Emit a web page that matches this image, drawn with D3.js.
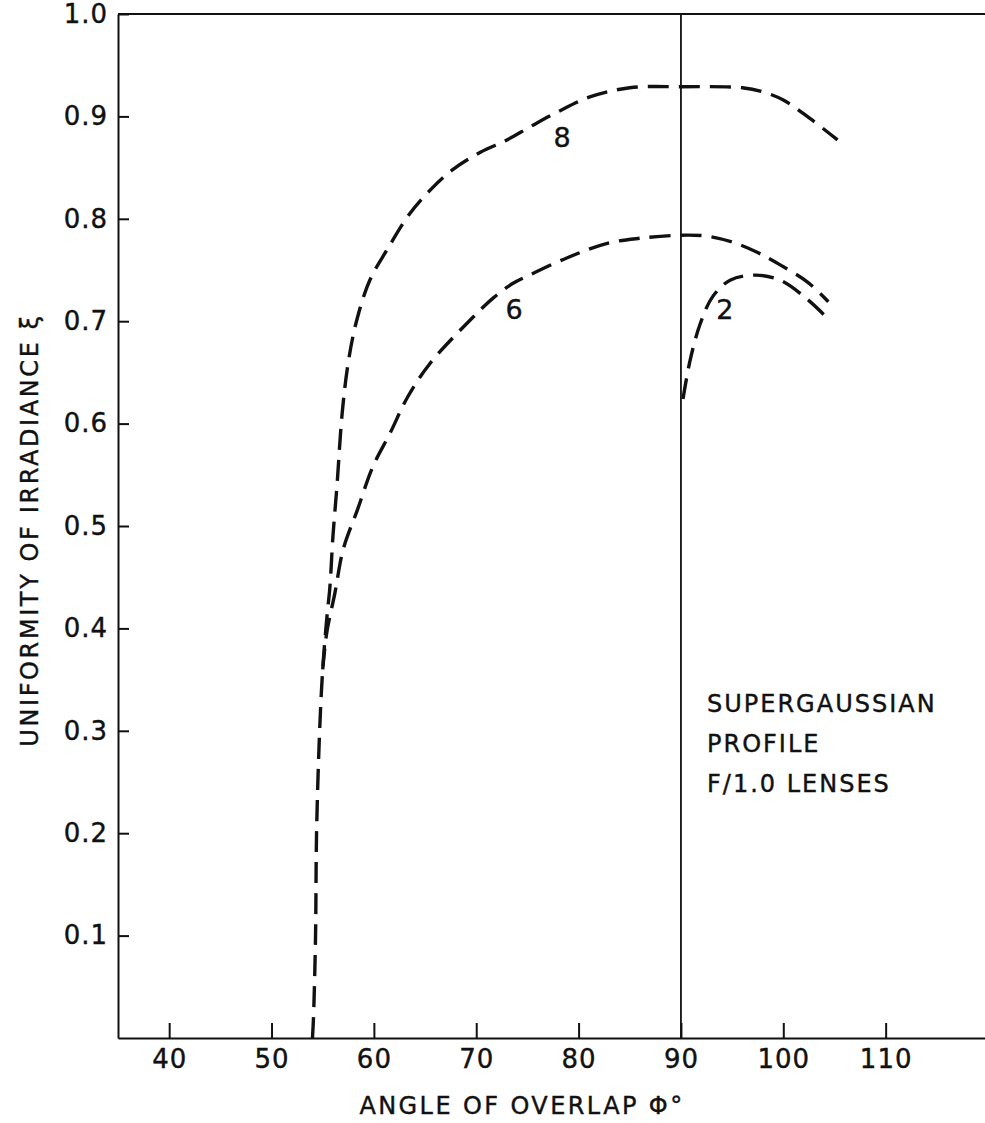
<!DOCTYPE html>
<html>
<head>
<meta charset="utf-8">
<script src="https://cdn.jsdelivr.net/npm/d3@7"></script>
<style>
  body { margin: 0; background: #fff; }
  text { font-family: "DejaVu Sans", sans-serif; fill: #111; stroke: #111; stroke-width: 0.4px; }
</style>
</head>
<body>
<div id="chart"></div>
<script>
// Data: angle of overlap (deg) vs uniformity of irradiance
const xTicks = [40, 50, 60, 70, 80, 90, 100, 110];
const yTicks = [0.1, 0.2, 0.3, 0.4, 0.5, 0.6, 0.7, 0.8, 0.9, 1.0];

const curve8 = [
  [54.0, 0.0], [54.1, 0.02], [54.3, 0.10], [54.4, 0.20], [54.7, 0.30], [55.0, 0.36],
  [55.4, 0.41], [55.7, 0.44], [56.0, 0.49], [56.4, 0.54], [56.9, 0.61], [57.5, 0.66],
  [58.3, 0.70], [59.6, 0.74], [61.3, 0.77], [63.5, 0.805], [65.5, 0.828], [67.7, 0.848],
  [70.4, 0.865], [73.0, 0.877], [75.3, 0.89], [77.9, 0.904], [81.1, 0.919], [85.0, 0.928],
  [90.0, 0.929], [96.0, 0.928], [98.0, 0.924], [100.0, 0.916], [102.6, 0.898], [105.3, 0.877]
];
const curve6 = [
  [55.0, 0.36], [55.4, 0.396], [56.2, 0.435], [57.0, 0.477], [58.4, 0.516], [59.9, 0.558],
  [61.6, 0.591], [63.3, 0.626], [65.5, 0.659], [69.1, 0.698], [71.7, 0.723], [73.6, 0.737],
  [75.0, 0.744], [78.9, 0.762], [82.8, 0.776], [86.0, 0.781], [90.0, 0.784], [92.6, 0.783],
  [95.1, 0.777], [97.5, 0.767], [99.7, 0.755], [102.4, 0.738], [104.4, 0.719]
];
const curve2 = [
  [90.2, 0.624], [90.9, 0.662], [91.9, 0.698], [93.1, 0.724], [94.8, 0.740],
  [97.3, 0.745], [99.7, 0.740], [102.4, 0.721], [104.4, 0.702]
];
const curveLabels = [
  { text: "8", x: 78.4, y: 0.879 },
  { text: "6", x: 73.7, y: 0.711 },
  { text: "2", x: 94.3, y: 0.711 }
];
const noteLines = ["SUPERGAUSSIAN", "PROFILE", "F/1.0 LENSES"];
const markerAngle = 90;

const width = 985;
const height = 1123;

const svg = d3.select("#chart")
  .append("svg")
  .attr("width", width)
  .attr("height", height);

const x = d3.scaleLinear()
  .domain([35, 120])
  .range([118, 988]);

const y = d3.scaleLinear()
  .domain([0, 1])
  .range([1038, 14]);

// frame: top line
svg.append("line")
  .attr("x1", x(35)).attr("x2", width)
  .attr("y1", y(1)).attr("y2", y(1))
  .attr("stroke", "#111").attr("stroke-width", 2);

// axes with inward ticks
const xAxis = svg.append("g")
  .attr("transform", `translate(0,${y(0)})`)
  .call(d3.axisBottom(x).tickValues(xTicks).tickSizeInner(-15).tickSizeOuter(0).tickPadding(12));

const yAxis = svg.append("g")
  .attr("transform", `translate(${x(35)},0)`)
  .call(d3.axisLeft(y).tickValues(yTicks).tickSizeInner(-11).tickSizeOuter(0).tickPadding(10)
    .tickFormat(d3.format(".1f")));

[xAxis, yAxis].forEach(g => {
  g.selectAll("path, line").attr("stroke", "#111").attr("stroke-width", 2);
  g.selectAll("text")
    .attr("font-family", "DejaVu Sans, sans-serif")
    .attr("font-size", 26)
    .attr("letter-spacing", 1)
    .attr("fill", "#111");
});

// vertical reference line at 90 degrees
svg.append("line")
  .attr("x1", x(markerAngle)).attr("x2", x(markerAngle))
  .attr("y1", y(1)).attr("y2", y(0))
  .attr("stroke", "#111").attr("stroke-width", 1.8);

// dashed curves
const line = d3.line()
  .x(d => x(d[0]))
  .y(d => y(d[1]))
  .curve(d3.curveCatmullRom.alpha(0.5));

[curve8, curve6, curve2].forEach(c => {
  svg.append("path")
    .datum(c)
    .attr("d", line)
    .attr("fill", "none")
    .attr("stroke", "#111")
    .attr("stroke-width", 3.4)
    .attr("stroke-dasharray", "21 10");
});

// curve labels
svg.selectAll("text.curve-label")
  .data(curveLabels)
  .enter()
  .append("text")
  .attr("class", "curve-label")
  .attr("x", d => x(d.x))
  .attr("y", d => y(d.y))
  .attr("text-anchor", "middle")
  .attr("dominant-baseline", "central")
  .attr("font-size", 27)
  .text(d => d.text);

// annotation
svg.selectAll("text.note")
  .data(noteLines)
  .enter()
  .append("text")
  .attr("class", "note")
  .attr("x", 707)
  .attr("y", (d, i) => 712 + i * 40)
  .attr("font-size", 24)
  .attr("letter-spacing", 2)
  .text(d => d);

// axis titles
svg.append("text")
  .attr("x", 522)
  .attr("y", 1114)
  .attr("text-anchor", "middle")
  .attr("font-size", 24)
  .attr("letter-spacing", 2.4)
  .text("ANGLE OF OVERLAP \u03A6\u00B0");

svg.append("text")
  .attr("transform", `translate(38,530) rotate(-90)`)
  .attr("text-anchor", "middle")
  .attr("font-size", 24)
  .attr("letter-spacing", 2.6)
  .text("UNIFORMITY OF IRRADIANCE \u03BE");
</script>
</body>
</html>
